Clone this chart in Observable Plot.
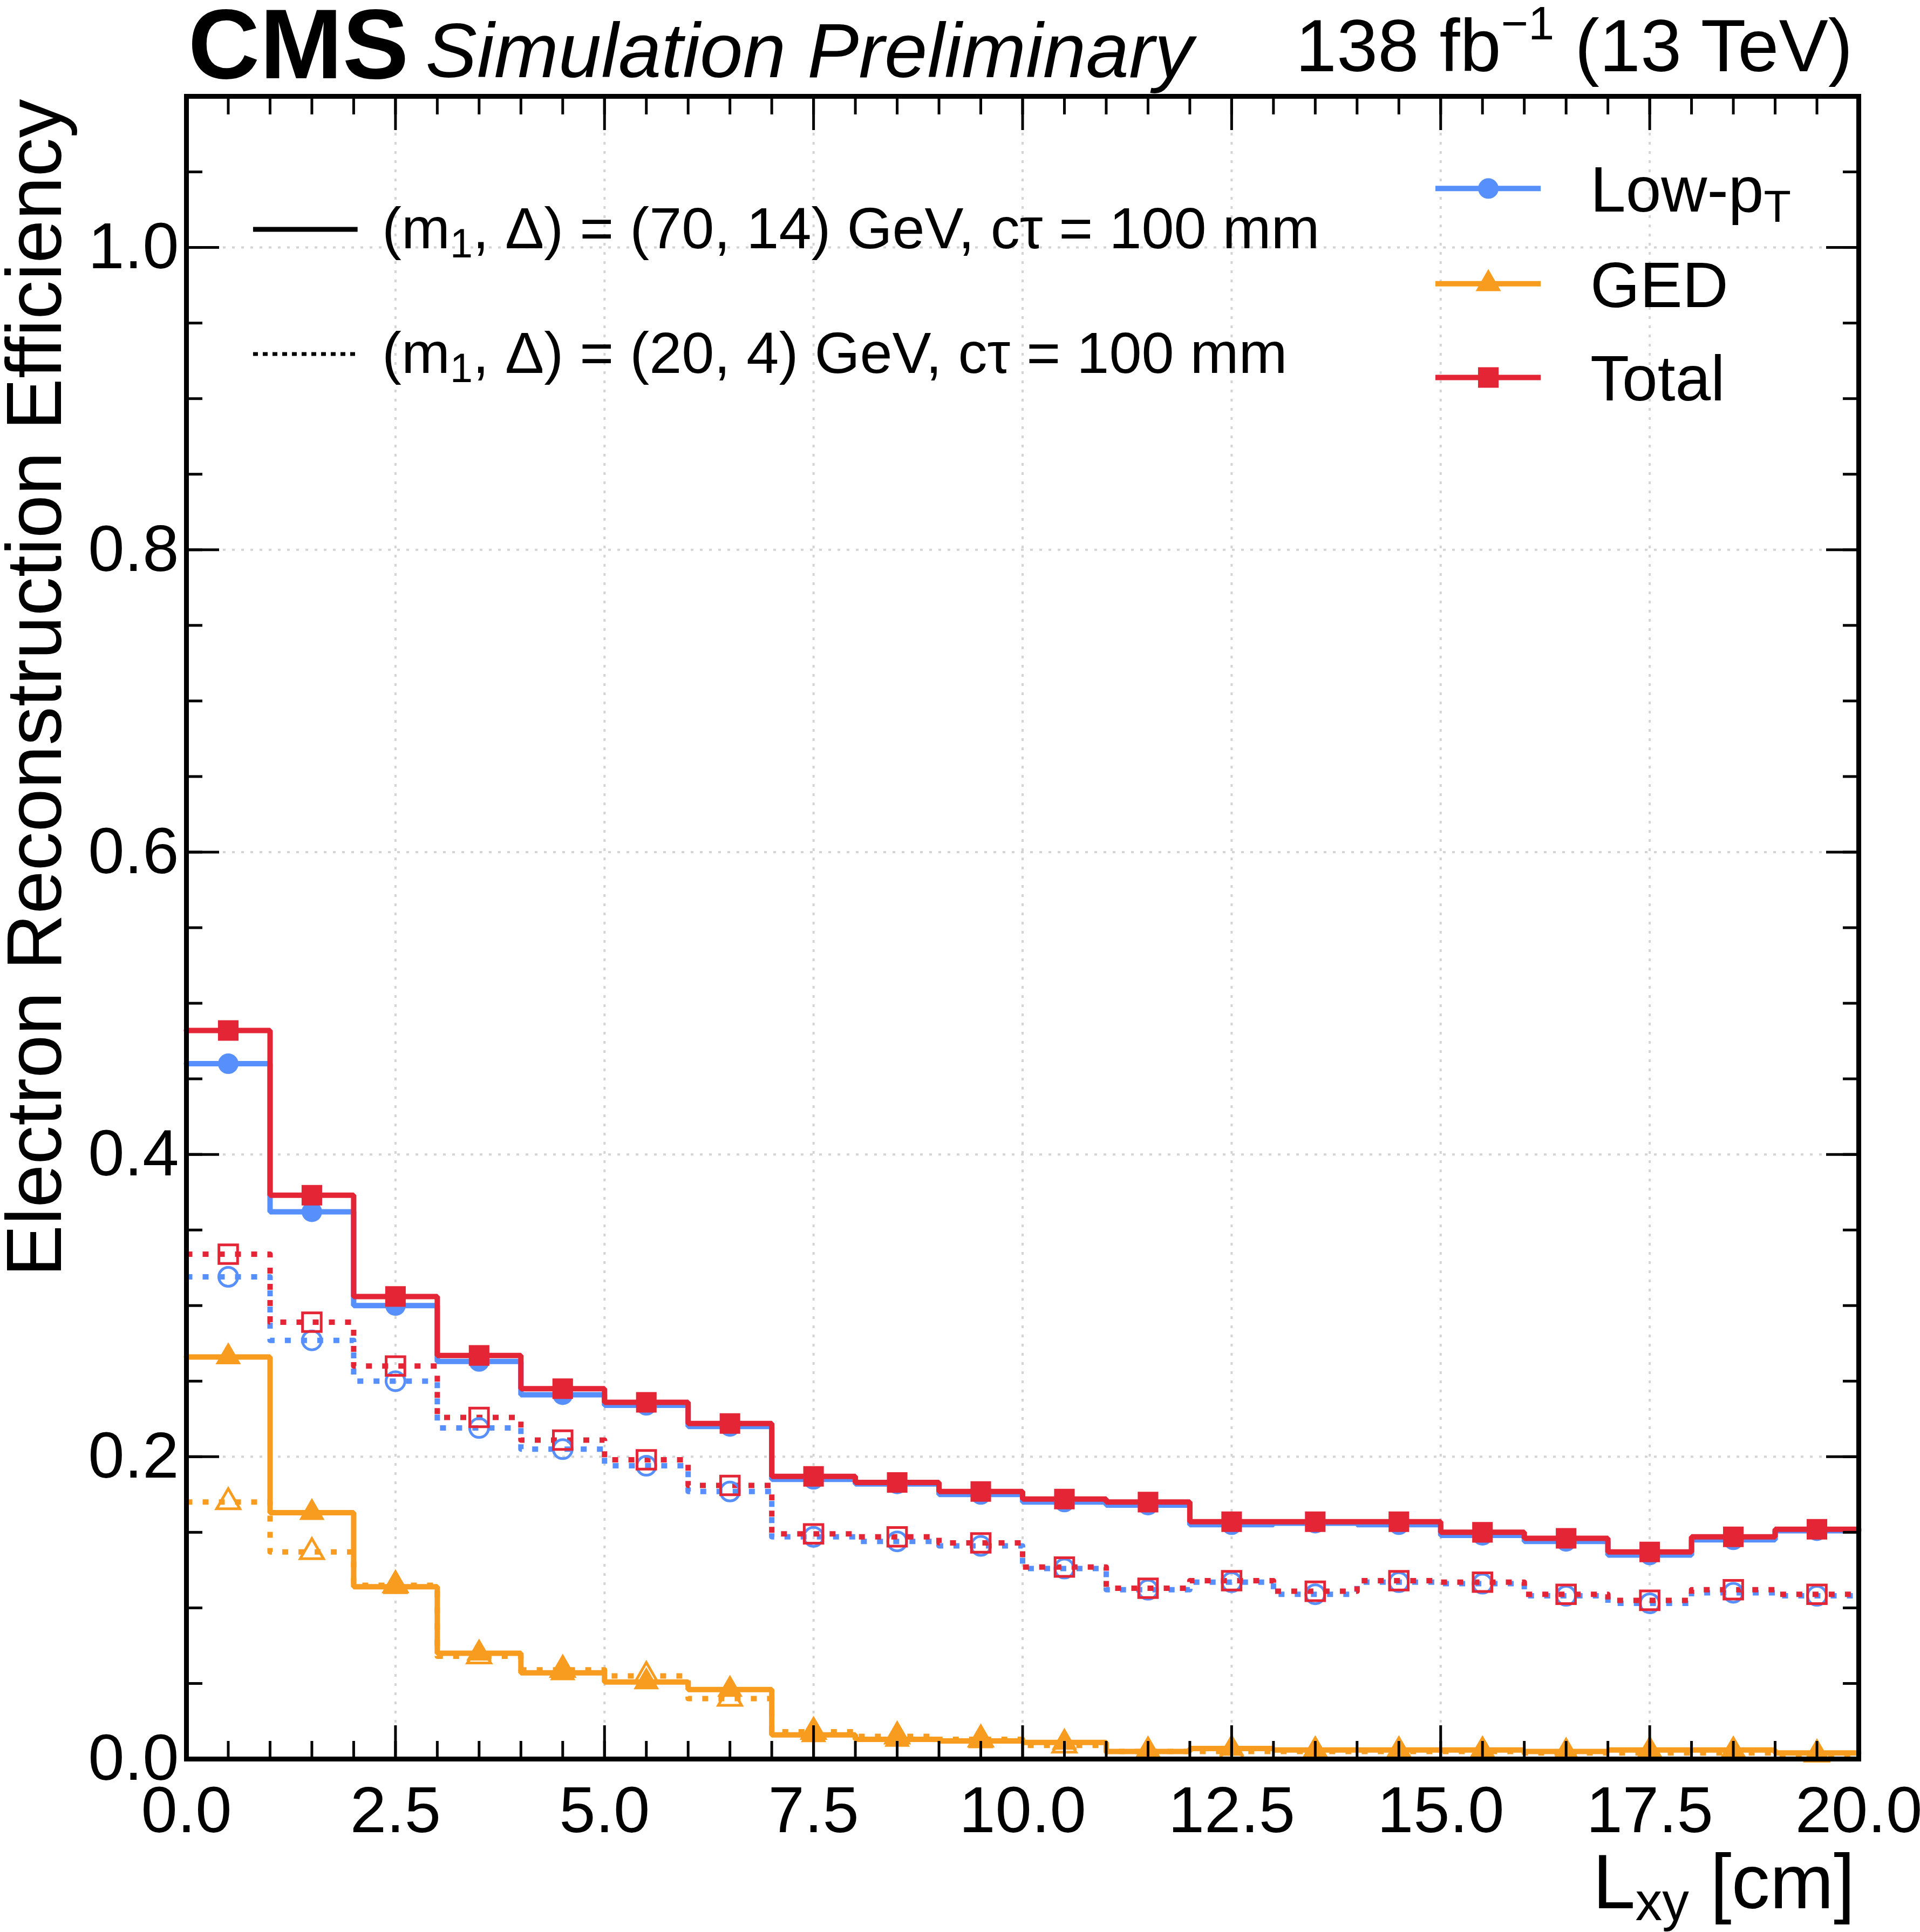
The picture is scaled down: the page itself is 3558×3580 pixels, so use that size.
<!DOCTYPE html>
<html>
<head>
<meta charset="utf-8">
<script src="https://cdn.jsdelivr.net/npm/d3@7"></script>
<script src="https://cdn.jsdelivr.net/npm/@observablehq/plot@0.6"></script>
<style>
  html, body { margin: 0; padding: 0; background: #ffffff; }
  #chart svg { display: block; }
</style>
</head>
<body>
<div id="chart"></div>
<script>
// ---------- data ----------
const binEdges = [0,1,2,3,4,5,6,7,8,9,10,11,12,13,14,15,16,17,18,19,20];

// (m1, Δ) = (70, 14) GeV, cτ = 100 mm  (solid)
const lowpt_70_14 = [0.460,0.362,0.300,0.263,0.241,0.234,0.220,0.185,0.182,0.175,0.170,0.168,0.155,0.156,0.155,0.148,0.144,0.135,0.145,0.151];
const ged_70_14   = [0.266,0.163,0.114,0.070,0.057,0.051,0.046,0.016,0.013,0.012,0.011,0.005,0.007,0.006,0.006,0.006,0.005,0.006,0.006,0.004];
const total_70_14 = [0.482,0.373,0.306,0.267,0.245,0.236,0.222,0.187,0.183,0.177,0.172,0.170,0.157,0.157,0.157,0.150,0.146,0.137,0.147,0.152];

// (m1, Δ) = (20, 4) GeV, cτ = 100 mm  (dotted)
const lowpt_20_4 = [0.319,0.277,0.250,0.219,0.205,0.194,0.177,0.147,0.144,0.141,0.126,0.112,0.117,0.109,0.117,0.116,0.108,0.103,0.110,0.108];
const ged_20_4   = [0.170,0.137,0.115,0.068,0.059,0.055,0.040,0.018,0.015,0.013,0.009,0.005,0.005,0.005,0.005,0.005,0.004,0.004,0.004,0.003];
const total_20_4 = [0.334,0.289,0.260,0.226,0.211,0.198,0.181,0.149,0.147,0.143,0.127,0.113,0.118,0.111,0.118,0.117,0.109,0.105,0.112,0.109];

const algoNames = ["Low-p_{T}", "GED", "Total"];
const sampleNames = ["(m_{1}, Δ) = (70, 14) GeV, cτ = 100 mm", "(m_{1}, Δ) = (20, 4) GeV, cτ = 100 mm"];

const xMajorTicks = [0,2.5,5,7.5,10,12.5,15,17.5,20];
const xMinorTicks = [0,0.5,1,1.5,2,2.5,3,3.5,4,4.5,5,5.5,6,6.5,7,7.5,8,8.5,9,9.5,10,10.5,11,11.5,12,12.5,13,13.5,14,14.5,15,15.5,16,16.5,17,17.5,18,18.5,19,19.5,20];
const yMajorTicks = [0,0.2,0.4,0.6,0.8,1.0];
const yMinorTicks = [0,0.05,0.1,0.15,0.2,0.25,0.3,0.35,0.4,0.45,0.5,0.55,0.6,0.65,0.7,0.75,0.8,0.85,0.9,0.95,1.0,1.05,1.1];

// ---------- styling ----------
const BLUE = "#5790fc", ORANGE = "#f89c20", RED = "#e42536";
const FONT = "'Liberation Sans', Arial, Helvetica, sans-serif";

const algos = [
  {name: algoNames[0], color: BLUE,   symbol: "circle",   r: 19,   rOpen: 17.5},
  {name: algoNames[1], color: ORANGE, symbol: "triangle", r: 17.5, rOpen: 16},
  {name: algoNames[2], color: RED,    symbol: "square",   r: 21.5, rOpen: 19.5}
];
const solidValues  = [lowpt_70_14, ged_70_14, total_70_14];
const dottedValues = [lowpt_20_4, ged_20_4, total_20_4];

function stepData(values) {
  const pts = values.map((v, i) => ({x: binEdges[i], y: v}));
  pts.push({x: binEdges[values.length], y: values[values.length - 1]});
  return pts;
}
function centerData(values) {
  return values.map((v, i) => ({x: (binEdges[i] + binEdges[i + 1]) / 2, y: v}));
}

const DASH = "11,19";
const LW = 10;

const marks = [];

// grid
marks.push(Plot.gridX(xMajorTicks.slice(1, -1), {stroke: "#d4d4d4", strokeOpacity: 1, strokeWidth: 4, strokeDasharray: "5,12"}));
marks.push(Plot.gridY(yMajorTicks.slice(1), {stroke: "#d4d4d4", strokeOpacity: 1, strokeWidth: 4, strokeDasharray: "5,12"}));

// dotted histograms
algos.forEach((a, k) => {
  marks.push(Plot.line(stepData(dottedValues[k]), {x: "x", y: "y", curve: "step-after", stroke: a.color, strokeWidth: LW, strokeDasharray: DASH, strokeLinecap: "butt"}));
});
// solid histograms
algos.forEach((a, k) => {
  marks.push(Plot.line(stepData(solidValues[k]), {x: "x", y: "y", curve: "step-after", stroke: a.color, strokeWidth: LW, strokeLinejoin: "miter"}));
});
// open markers
algos.forEach((a, k) => {
  marks.push(Plot.dot(centerData(dottedValues[k]), {x: "x", y: "y", symbol: a.symbol, r: a.rOpen, fill: "none", stroke: a.color, strokeWidth: 5}));
});
// filled markers
algos.forEach((a, k) => {
  marks.push(Plot.dot(centerData(solidValues[k]), {x: "x", y: "y", symbol: a.symbol, r: a.r, fill: a.color, stroke: "none"}));
});

// ---------- legends (layout positions in data units) ----------
const algoLegendY = [1.039, 0.976, 0.914];
const algoLegendX = {x1: 14.94, x2: 16.20, mark: 15.57, text: 16.79};
marks.push(Plot.ruleY(algos, {y: (d, i) => algoLegendY[i], x1: () => algoLegendX.x1, x2: () => algoLegendX.x2, stroke: d => d.color, strokeWidth: LW}));
algos.forEach((a, k) => {
  marks.push(Plot.dot([a], {x: () => algoLegendX.mark, y: () => algoLegendY[k], symbol: a.symbol, r: a.r, fill: a.color, stroke: "none"}));
});
marks.push(Plot.text(algos, {x: () => algoLegendX.text, y: (d, i) => algoLegendY[i], text: d => d.name, textAnchor: "start", lineAnchor: "middle", fontSize: 118, dy: 5, fill: "black"}));

const sampleLegendY = [1.012, 0.9295];
const sampleLegendX = {x1: 0.80, x2: 2.05, text: 2.34};
const sampleStyles = [{w: 9, dash: null}, {w: 7, dash: "9,9"}];
sampleNames.forEach((s, k) => {
  marks.push(Plot.ruleY([s], {y: () => sampleLegendY[k], x1: () => sampleLegendX.x1, x2: () => sampleLegendX.x2, stroke: "black", strokeWidth: sampleStyles[k].w, strokeDasharray: sampleStyles[k].dash}));
});
marks.push(Plot.text(sampleNames, {x: () => sampleLegendX.text, y: (d, i) => sampleLegendY[i], text: d => d, textAnchor: "start", lineAnchor: "middle", fontSize: 108, fill: "black"}));

// ---------- frame & axes ----------
marks.push(Plot.frame({stroke: "black", strokeWidth: 9}));
const fmt = d3.format(".1f");
const tickStyle = {stroke: "black", strokeWidth: 5, label: null};
marks.push(Plot.axisX(xMajorTicks, {anchor: "bottom", tickSize: -62, tickPadding: 112, tickFormat: fmt, fontSize: 121, ...tickStyle}));
marks.push(Plot.axisX(xMinorTicks, {anchor: "bottom", tickSize: -33, tickFormat: () => "", ...tickStyle}));
marks.push(Plot.axisX(xMajorTicks, {anchor: "top", tickSize: -62, tickFormat: () => "", ...tickStyle}));
marks.push(Plot.axisX(xMinorTicks, {anchor: "top", tickSize: -33, tickFormat: () => "", ...tickStyle}));
marks.push(Plot.axisY(yMajorTicks, {anchor: "left", tickSize: -61, tickPadding: 75, tickFormat: fmt, fontSize: 121, ...tickStyle}));
marks.push(Plot.axisY(yMinorTicks, {anchor: "left", tickSize: -30, tickFormat: () => "", ...tickStyle}));
marks.push(Plot.axisY(yMajorTicks, {anchor: "right", tickSize: -61, tickFormat: () => "", ...tickStyle}));
marks.push(Plot.axisY(yMinorTicks, {anchor: "right", tickSize: -30, tickFormat: () => "", ...tickStyle}));

// ---------- titles & axis labels ----------
marks.push(Plot.text(["CMS"], {frameAnchor: "top-left", text: d => d, textAnchor: "start", lineAnchor: "bottom", dx: 3, dy: -34, fontSize: 184, fontWeight: "bold", fill: "black"}));
marks.push(Plot.text(["Simulation Preliminary"], {frameAnchor: "top-left", text: d => d, textAnchor: "start", lineAnchor: "bottom", dx: 443, dy: -36, fontSize: 143, fontStyle: "italic", fill: "black"}));
marks.push(Plot.text(["138 fb^{−1} (13 TeV)"], {frameAnchor: "top-right", text: d => d, textAnchor: "end", lineAnchor: "bottom", dx: -11, dy: -47, fontSize: 137, fill: "black"}));
marks.push(Plot.text(["Electron Reconstruction Efficiency"], {frameAnchor: "top-left", text: d => d, rotate: -90, textAnchor: "end", lineAnchor: "bottom", dx: -233, dy: 5, fontSize: 144, fill: "black"}));
marks.push(Plot.text(["L_{xy} [cm]"], {frameAnchor: "bottom-right", text: d => d, textAnchor: "end", lineAnchor: "bottom", dx: -7, dy: 276, fontSize: 142, fill: "black"}));

const chart = Plot.plot({
  width: 3558,
  height: 3580,
  marginLeft: 345,
  marginRight: 114,
  marginTop: 178,
  marginBottom: 321,
  style: {fontFamily: FONT, background: "white", color: "black", overflow: "visible"},
  x: {domain: [0, 20], axis: null},
  y: {domain: [0, 1.1], axis: null},
  marks
});
document.getElementById("chart").appendChild(chart);

// ---------- rich text (sub/superscripts) ----------
function richify(root) {
  const ns = "http://www.w3.org/2000/svg";
  root.querySelectorAll("text").forEach(t => {
    const s = t.textContent;
    if (!/[_^]\{/.test(s)) return;
    const fs = parseFloat(getComputedStyle(t).fontSize) || 100;
    const parts = [];
    const re = /([_^])\{([^}]*)\}/g;
    let last = 0, m;
    while ((m = re.exec(s))) {
      if (m.index > last) parts.push({type: "n", text: s.slice(last, m.index)});
      parts.push({type: m[1] === "_" ? "sub" : "sup", text: m[2]});
      last = re.lastIndex;
    }
    if (last < s.length) parts.push({type: "n", text: s.slice(last)});
    while (t.firstChild) t.removeChild(t.firstChild);
    let offset = 0;
    parts.forEach(p => {
      const ts = document.createElementNS(ns, "tspan");
      let target = 0, size = fs;
      if (p.type === "sub") { target = 0.16 * fs; size = 0.7 * fs; }
      if (p.type === "sup") { target = -0.43 * fs; size = 0.63 * fs; }
      ts.setAttribute("font-size", size);
      if (target !== offset) ts.setAttribute("dy", target - offset);
      offset = target;
      ts.textContent = p.text;
      t.appendChild(ts);
    });
  });
}
richify(chart);
</script>
</body>
</html>
